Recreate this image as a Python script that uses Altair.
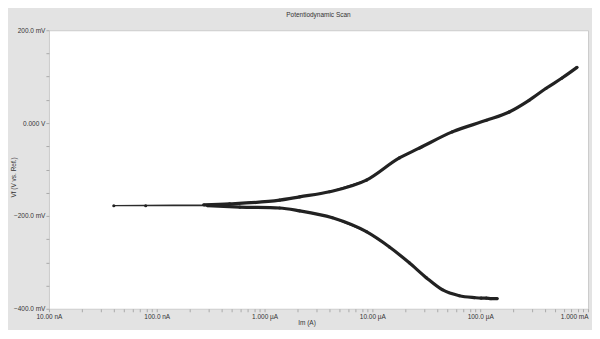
import altair as alt
import pandas as pd
import math

# Potentiodynamic scan, in scan order (cathodic branch -> near Ecorr -> anodic branch)
cath_current = [1.44e-4, 1.26e-4, 1.14e-4, 1.02e-4, 8.8e-5, 6.4e-5, 4.45e-5, 3.16e-5,
                2.2e-5, 1.44e-5, 8.8e-6, 4.26e-6, 2.11e-6, 1.38e-6, 5.9e-7, 2.96e-7]
cath_potential = [-378, -378, -377, -377, -376, -372, -359, -333,
                  -301, -267, -234, -204, -189, -183, -181, -178]

zero_current = [7.9e-8, 4.0e-8]
zero_potential = [-178, -178]

anod_current = [2.72e-7, 4.74e-7, 1.38e-6, 2.11e-6, 4.0e-6, 8.8e-6, 1.78e-5, 2.72e-5,
                5.5e-5, 1.14e-4, 1.86e-4, 2.84e-4, 4.09e-4, 5.74e-4, 7.91e-4]
anod_potential = [-176, -174, -166, -159, -148, -123, -75, -54,
                  -19, 6, 24, 49, 75, 97, 120]

x_decades = [1e-8, 1e-7, 1e-6, 1e-5, 1e-4, 1e-3]
x_decade_labels = ["10.00 nA", "100.0 nA", "1.000 µA", "10.00 µA", "100.0 µA", "1.000 mA"]
y_ticks = list(range(-400, 201, 50))

rows = []
i = 0
for c, e in zip(cath_current, cath_potential):
    rows.append({"i": i, "I": c, "E": e, "branch": "cathodic"}); i += 1
for c, e in zip(zero_current, zero_potential):
    rows.append({"i": i, "I": c, "E": e, "branch": "zero"}); i += 1
for c, e in zip(anod_current, anod_potential):
    rows.append({"i": i, "I": c, "E": e, "branch": "anodic"}); i += 1
df = pd.DataFrame(rows)

# minor ticks for log axis
x_tick_vals = []
for d in x_decades[:-1]:
    for m in range(1, 10):
        x_tick_vals.append(d * m)
x_tick_vals.append(x_decades[-1])

label_map = "{" + ",".join(f"'{round(math.log10(v))}':'{l}'" for v, l in zip(x_decades, x_decade_labels)) + "}"
x_label_expr = (
    f"abs(log(datum.value)/log(10) - round(log(datum.value)/log(10))) < 0.001 ? "
    f"{label_map}[''+round(log(datum.value)/log(10))] : ''"
)
y_label_expr = (
    "datum.value == 0 ? '0.000 V' : (datum.value % 200 == 0 ? format(datum.value, '.1f') + ' mV' : '')"
)

x_enc = alt.X("I:Q", scale=alt.Scale(type="log", domain=[1e-8, 1e-3], nice=False),
              axis=alt.Axis(title="Im (A)", values=x_tick_vals, labelExpr=x_label_expr,
                            grid=False, domain=False, tickSize=3, labelPadding=2,
                            labelAlign=alt.ExprRef(expr="datum.value > 0.0009 ? 'right' : 'center'"),
                            titleX=258, titleY=14, titleAlign="center", titleBaseline="middle",
                            labelFlush=False, labelOverlap=False))
y_enc = alt.Y("E:Q", scale=alt.Scale(domain=[-400, 200], nice=False),
              axis=alt.Axis(title="Vf (V vs. Ref.)", values=y_ticks, labelExpr=y_label_expr,
                            grid=False, domain=False, tickSize=3, labelPadding=1,
                            titleX=-32, titleY=147, labelOverlap=False))

base = alt.Chart(df)
thin = base.mark_line(color="#2b2b2b", strokeWidth=1.2).encode(x=x_enc, y=y_enc, order="i:Q")
thick = base.transform_filter("datum.branch != 'zero'").mark_line(
    color="#222222", strokeWidth=3.2, interpolate="monotone").encode(
    x=x_enc, y=y_enc, detail="branch:N", order="i:Q")
pts = base.mark_point(filled=True, color="#222222", size=10, opacity=1).encode(x=x_enc, y=y_enc)

chart = (thin + thick + pts).properties(
    width=540, height=279,
    title=alt.TitleParams("Potentiodynamic Scan", fontSize=6.5, fontWeight="normal",
                          color="#333333", font="Liberation Sans", offset=9),
    background="#e3e3e3",
    autosize=alt.AutoSizeParams(type="none"),
    padding={"left": 41, "top": 22, "right": 4, "bottom": 21},
).configure_view(fill="white", stroke="#cccccc").configure_axis(
    labelFont="Liberation Sans", labelFontSize=6.5, labelColor="#333333",
    titleFont="Liberation Sans", titleFontSize=6.5, titleColor="#333333", titleFontWeight="normal",
    tickColor="#aaaaaa"
)

chart.save("out.html", embed_options={"renderer": "svg", "actions": False})
